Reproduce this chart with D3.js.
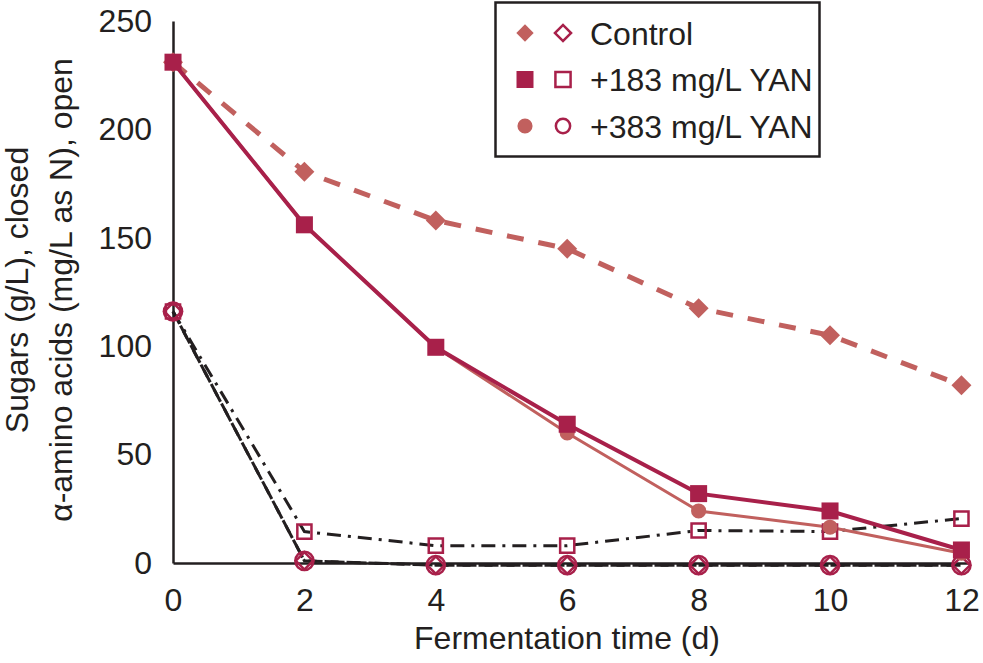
<!DOCTYPE html>
<html><head><meta charset="utf-8">
<script src="https://cdn.jsdelivr.net/npm/d3@7"></script>
<style>body{margin:0;background:#fff} text{font-family:"Liberation Sans",Arial,Helvetica,sans-serif;fill:#231f20}</style>
</head><body><svg id="chart" width="983" height="663"></svg>
<script>
// ---- data ----
const days = [0, 2, 4, 6, 8, 10, 12];
const sugarControl = [231, 180.5, 158, 145, 117.5, 105, 82];
const sugar183 = [231, 156, 99.5, 64, 32, 24, 6];
const sugar383 = [231, 156, 99.5, 60, 24, 16.5, 4.5];
const aminoControl = [116, 1, -1, -1, -1, -1, -1];
const amino183 = [116, 14.5, 8, 8, 15, 14.5, 20.5];
const amino383 = [116, 1, -1, -1, -1, -1, -1];
const legendLabels = ["Control", "+183 mg/L YAN", "+383 mg/L YAN"];
const xTicks = [0, 2, 4, 6, 8, 10, 12];
const yTicks = [0, 50, 100, 150, 200, 250];

// ---- styles ----
const CRIMSON = "#a8204a";
const LIGHT = "#c1605e";
const INK = "#231f20";

const svg = d3.select("#chart");
const x = d3.scaleLinear().domain([0, 12.1]).range([173, 968]);
const y = d3.scaleLinear().domain([0, 250]).range([563, 21]);

// axes
const xAxis = svg.append("g").attr("transform", `translate(0,${y(0)})`)
  .call(d3.axisBottom(x).tickValues(xTicks).tickSize(0).tickPadding(25).tickFormat(d3.format("d")));
const yAxis = svg.append("g").attr("transform", `translate(${x(0)},0)`)
  .call(d3.axisLeft(y).tickValues(yTicks).tickSize(0).tickPadding(21).tickFormat(d3.format("d")));
[xAxis, yAxis].forEach(a => {
  a.select(".domain").attr("stroke", INK).attr("stroke-width", 2.5);
  a.selectAll("text").style("font-size", "32px").attr("fill", INK);
});

// titles
svg.append("text").attr("x", 567).attr("y", 649).attr("text-anchor", "middle")
  .style("font-size", "32px").text("Fermentation time (d)");
svg.append("text").attr("transform", "translate(28,290) rotate(-90)").attr("text-anchor", "middle")
  .style("font-size", "32px").text("Sugars (g/L), closed");
svg.append("text").attr("transform", "translate(72,290) rotate(-90)").attr("text-anchor", "middle")
  .style("font-size", "32px").text("\u03b1-amino acids (mg/L as N), open");

const line = d3.line().x(d => x(d[0])).y(d => y(d[1]));
const pts = vals => days.map((d, i) => [d, vals[i]]);

// amino acid lines (black)
svg.append("path").datum(pts(aminoControl)).attr("d", line).attr("fill", "none")
  .attr("stroke", INK).attr("stroke-width", 3).attr("stroke-dasharray", "14,8");
svg.append("path").datum(pts(amino383)).attr("d", line).attr("fill", "none")
  .attr("stroke", INK).attr("stroke-width", 3).attr("stroke-dasharray", "14,8").attr("stroke-dashoffset", 6);
svg.append("path").datum(pts(amino183)).attr("d", line).attr("fill", "none")
  .attr("stroke", INK).attr("stroke-width", 3).attr("stroke-dasharray", "14,7,3,7");

// sugar lines
svg.append("path").datum(pts(sugarControl)).attr("d", line).attr("fill", "none")
  .attr("stroke", LIGHT).attr("stroke-width", 5).attr("stroke-dasharray", "17,15");
svg.append("path").datum(pts(sugar383)).attr("d", line).attr("fill", "none")
  .attr("stroke", LIGHT).attr("stroke-width", 3);
svg.append("path").datum(pts(sugar183)).attr("d", line).attr("fill", "none")
  .attr("stroke", CRIMSON).attr("stroke-width", 4);

// marker helpers
const sq = a => d3.symbol().type(d3.symbolSquare).size(a)();
const circ = a => d3.symbol().type(d3.symbolCircle).size(a)();
function markers(vals, pathD, rot, fill, stroke, sw) {
  svg.append("g").selectAll("path").data(pts(vals)).join("path")
    .attr("d", pathD)
    .attr("transform", d => `translate(${x(d[0])},${y(d[1])}) rotate(${rot})`)
    .attr("fill", fill).attr("stroke", stroke).attr("stroke-width", sw);
}
// open markers (amino acids)
markers(amino183, sq(200), 0, "none", CRIMSON, 2.5);
markers(aminoControl, sq(150), 45, "none", CRIMSON, 2.5);
markers(amino383, circ(260), 0, "none", CRIMSON, 2.5);
// filled markers (sugars)
markers(sugarControl, sq(200), 45, LIGHT, "none", 0);
markers(sugar383, circ(180), 0, LIGHT, "none", 0);
markers(sugar183, sq(290), 0, CRIMSON, "none", 0);

// legend
const lg = svg.append("g");
lg.append("rect").attr("x", 495.5).attr("y", 2.5).attr("width", 324).attr("height", 154)
  .attr("fill", "#fff").attr("stroke", INK).attr("stroke-width", 2.5);
const legendRows = [
  {closed: [sq(150), 45, LIGHT], open: [sq(130), 45]},
  {closed: [sq(289), 0, CRIMSON], open: [sq(230), 0]},
  {closed: [circ(180), 0, LIGHT], open: [circ(160), 0]}
];
legendRows.forEach((r, i) => {
  const cy = 33 + i * 46.5;
  lg.append("path").attr("d", r.closed[0]).attr("transform", `translate(525,${cy}) rotate(${r.closed[1]})`)
    .attr("fill", r.closed[2]);
  lg.append("path").attr("d", r.open[0]).attr("transform", `translate(563,${cy}) rotate(${r.open[1]})`)
    .attr("fill", "none").attr("stroke", CRIMSON).attr("stroke-width", 2.5);
  lg.append("text").attr("x", 590).attr("y", cy + 11.5).style("font-size", "32px").text(legendLabels[i]);
});
</script></body></html>
